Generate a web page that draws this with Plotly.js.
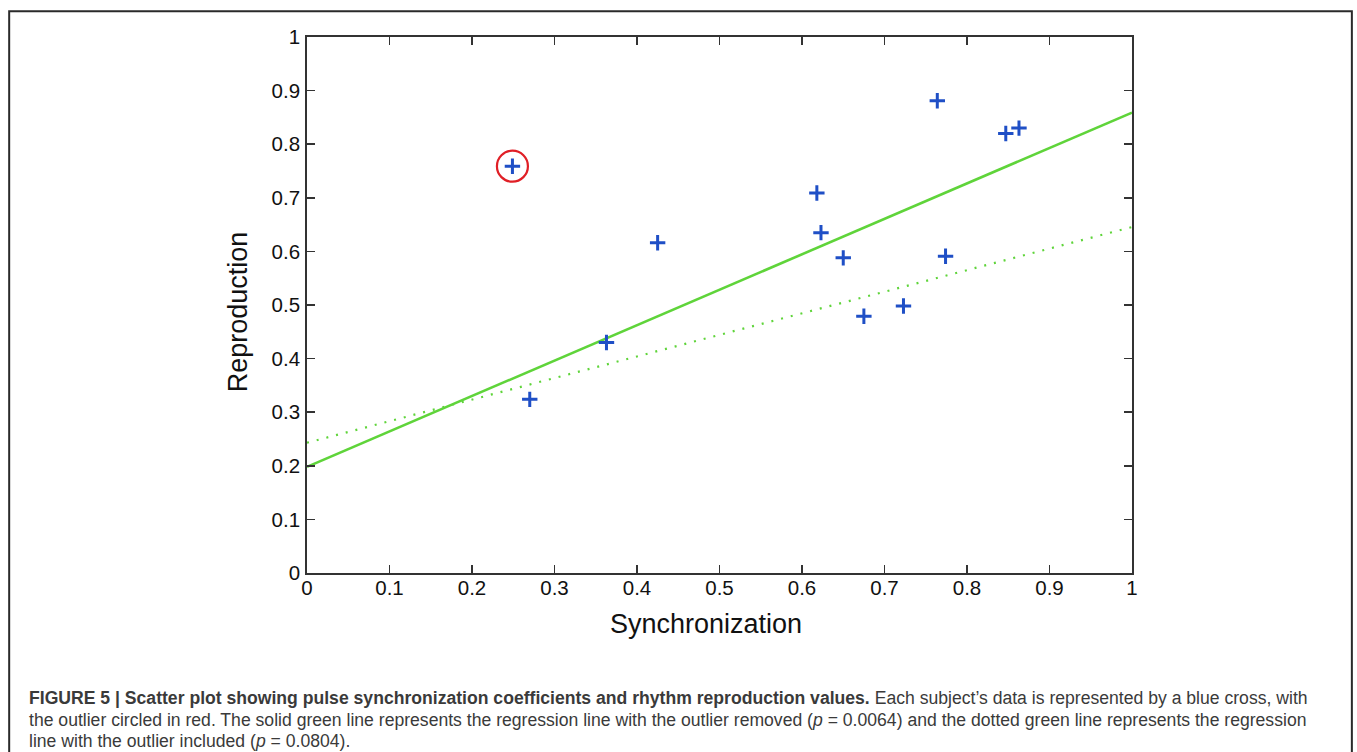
<!DOCTYPE html>
<html>
<head>
<meta charset="utf-8">
<script src="https://cdn.plot.ly/plotly-3.0.1.min.js"></script>
<style>
html,body{margin:0;padding:0;background:#fff;}
#chart{width:1357px;height:752px;}
</style>
</head>
<body>
<div id="chart"></div>
<script>
// Subject data (synchronization vs reproduction)
var synchronization = [0.249, 0.270, 0.363, 0.425, 0.618, 0.623, 0.650, 0.675, 0.723, 0.764, 0.774, 0.847, 0.863];
var reproduction    = [0.759, 0.324, 0.430, 0.616, 0.709, 0.635, 0.588, 0.479, 0.498, 0.881, 0.591, 0.820, 0.830];
// Outlier (circled in red)
var outlierX = [0.249];
var outlierY = [0.759];
// Regression line end points
var lineX = [0, 1];
var solidY = [0.198, 0.859];   // outlier removed
var dottedY = [0.243, 0.6455]; // outlier included
var tickVals = [0, 0.1, 0.2, 0.3, 0.4, 0.5, 0.6, 0.7, 0.8, 0.9, 1];
var tickText = ['0', '0.1', '0.2', '0.3', '0.4', '0.5', '0.6', '0.7', '0.8', '0.9', '1'];

var W = 1357, H = 752;
var L = 307, R = 1132.5, T = 36.7, B = 572.7;
function px(x){ return (x - L) / (R - L); }
function py(y){ return (B - y) / (B - T); }

var traces = [
  {x: lineX, y: dottedY, mode: 'lines', line: {color: '#5fd43a', width: 2.2, dash: '2px,8px'}, hoverinfo: 'skip'},
  {x: lineX, y: solidY, mode: 'lines', line: {color: '#5fd43a', width: 2.6}, hoverinfo: 'skip'},
  {x: synchronization, y: reproduction, mode: 'markers',
   marker: {symbol: 'cross-thin', size: 11, line: {width: 3, color: '#1f4fc6'}, color: '#1f4fc6'}},
  {x: outlierX, y: outlierY, mode: 'markers',
   marker: {symbol: 'circle-open', size: 31, color: '#e01f26', line: {width: 2.2, color: '#e01f26'}}}
];

var axisCommon = {
  range: [0, 1], tickvals: tickVals, ticktext: tickText,
  ticks: 'inside', ticklen: 8, tickwidth: 1.5, tickcolor: '#333',
  showline: true, linecolor: '#333', linewidth: 1.8, mirror: 'ticks',
  showgrid: false, zeroline: false, fixedrange: true,
  tickfont: {family: 'Liberation Sans, Arial, sans-serif', size: 20.5, color: '#111'}
};

var capFont = {family: 'Liberation Sans Narrow, Liberation Sans, Arial, sans-serif', size: 17.6, color: '#3a3a3a'};

var layout = {
  width: W, height: H,
  margin: {l: L, r: W - R, t: T, b: H - B, pad: 0},
  paper_bgcolor: '#fff', plot_bgcolor: '#fff',
  showlegend: false,
  xaxis: Object.assign({}, axisCommon, {ticklabelstandoff: -4}),
  yaxis: Object.assign({}, axisCommon, {ticklabelstandoff: 1}),
  shapes: [
    {type: 'rect', xref: 'paper', yref: 'paper', x0: px(9), x1: px(1352.5), y0: py(11), y1: py(790),
     line: {color: '#2a2a2a', width: 2}, fillcolor: 'rgba(0,0,0,0)', layer: 'below'}
  ],
  annotations: [
    {text: 'Reproduction', xref: 'paper', yref: 'paper', x: px(238), y: py(312), textangle: -90,
     showarrow: false, xanchor: 'center', yanchor: 'middle',
     font: {family: 'Liberation Sans, Arial, sans-serif', size: 27, color: '#111'}},
    {text: 'Synchronization', xref: 'paper', yref: 'paper', x: px(706), y: py(624),
     showarrow: false, xanchor: 'center', yanchor: 'middle',
     font: {family: 'Liberation Sans, Arial, sans-serif', size: 27, color: '#111'}},
    {text: '<b>FIGURE 5 | Scatter plot showing pulse synchronization coefficients and rhythm reproduction values.</b> Each subject\u2019s data is represented by a blue cross, with',
     xref: 'paper', yref: 'paper', x: px(27), y: py(698), xanchor: 'left', yanchor: 'middle', showarrow: false, align: 'left', font: capFont},
    {text: 'the outlier circled in red. The solid green line represents the regression line with the outlier removed (<i>p</i> = 0.0064) and the dotted green line represents the regression',
     xref: 'paper', yref: 'paper', x: px(27), y: py(719.5), xanchor: 'left', yanchor: 'middle', showarrow: false, align: 'left', font: capFont},
    {text: 'line with the outlier included (<i>p</i> = 0.0804).',
     xref: 'paper', yref: 'paper', x: px(27), y: py(740.5), xanchor: 'left', yanchor: 'middle', showarrow: false, align: 'left', font: capFont}
  ]
};

Plotly.newPlot('chart', traces, layout, {displayModeBar: false, staticPlot: true});
</script>
</body>
</html>
